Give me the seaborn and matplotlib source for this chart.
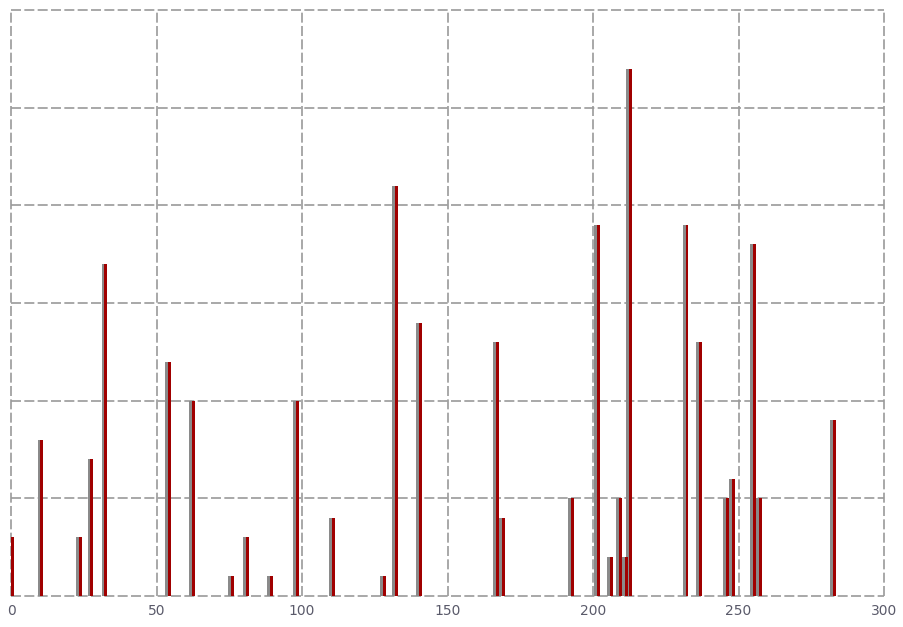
import matplotlib
matplotlib.use("Agg")
import matplotlib.pyplot as plt
import seaborn as sns
import pandas as pd
import numpy as np

# Bar centres along the x axis and their counts
positions = [0.0, 10.1, 23.4, 27.3, 32.1, 54.0, 62.2, 75.6, 80.8, 89.0,
             97.9, 110.3, 127.8, 132.0, 140.2, 166.7, 168.7, 192.4, 201.4, 205.8,
             208.9, 211.0, 212.3, 231.8, 236.4, 245.7, 247.8, 255.0, 257.0, 282.5]
counts = [3, 8, 3, 7, 17, 12, 10, 1, 3, 1,
          10, 4, 1, 21, 14, 13, 4, 5, 19, 2,
          5, 2, 27, 19, 13, 5, 6, 18, 5, 9]
x_ticks = [0, 50, 100, 150, 200, 250, 300]
y_ticks = [0, 5, 10, 15, 20, 25, 30]

sns.set_theme(style="white")
plt.rcParams['font.family'] = ['DejaVu Sans']

fig = plt.figure(figsize=(9.04, 6.27), dpi=100)
ax = fig.add_axes([0.0122, 0.0494, 0.9657, 0.9346])

df = pd.DataFrame({"pos": positions, "count": counts})
strip = 1.0  # width of each half of a bar, in data units
min_gap = np.min(np.diff(np.sort(df["pos"].values)))

# grey shading strip on the left of every bar
shade = df.assign(pos=df["pos"] - strip / 2)
sns.barplot(data=shade, x="pos", y="count", native_scale=True,
            width=strip / min_gap, color="#8a8a8a", saturation=1,
            errorbar=None, linewidth=0, ax=ax)
# red face of every bar
face = df.assign(pos=df["pos"] + strip / 2)
sns.barplot(data=face, x="pos", y="count", native_scale=True,
            width=strip / min_gap, color="#a00000", saturation=1,
            errorbar=None, linewidth=0, ax=ax)

ax.set_xlim(0, 300)
ax.set_ylim(0, 30)
ax.set_xticks(x_ticks)
ax.set_xticklabels([str(t) for t in x_ticks], fontsize=10, color="#5a5a6a")
ax.set_yticks(y_ticks)
ax.set_yticklabels([])
ax.tick_params(axis="both", length=0, pad=6)
ax.set_xlabel("")
ax.set_ylabel("")

for s in ax.spines.values():
    s.set_visible(False)
ax.grid(True, which="major", color="#9a9a9a", linestyle=(0, (6, 2)), linewidth=1.2)
ax.set_axisbelow(True)
for gl in ax.get_xgridlines() + ax.get_ygridlines():
    gl.set_clip_on(False)

fig.savefig("out.png", dpi=100, facecolor="white")
